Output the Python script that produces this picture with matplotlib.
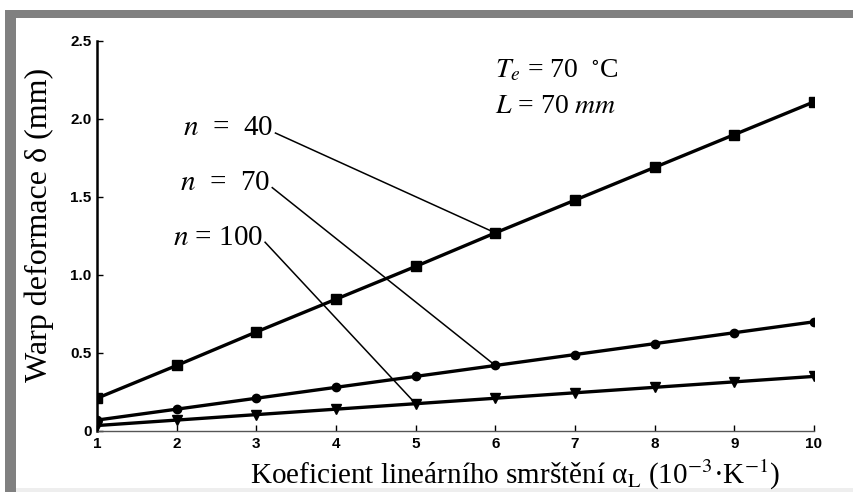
#!/usr/bin/env python3
# Warp deformation vs. linear shrinkage coefficient for three values of n.

import matplotlib
matplotlib.use("Agg")
from matplotlib import pyplot as plt
from matplotlib.patches import Rectangle

plt.rcParams["mathtext.fontset"] = "stix"
plt.rcParams["font.family"] = ["Liberation Serif", "DejaVu Serif"]

alpha = [1, 2, 3, 4, 5, 6, 7, 8, 9, 10]
warp_n40 = [0.21, 0.42, 0.635, 0.845, 1.055, 1.27, 1.48, 1.69, 1.90, 2.11]
warp_n70 = [0.07, 0.14, 0.21, 0.28, 0.35, 0.42, 0.49, 0.56, 0.63, 0.70]
warp_n100 = [0.035, 0.07, 0.105, 0.14, 0.175, 0.21, 0.245, 0.28, 0.315, 0.35]

y_ticks = [0, 0.5, 1.0, 1.5, 2.0, 2.5]
y_tick_labels = ["0", "0.5", "1.0", "1.5", "2.0", "2.5"]

# (label, label anchor in data coords, index of pointed point, series)
callouts = [
    ("$n$  =  40", (3.24, 1.91), 5, warp_n40),
    ("$n$  =  70", (3.20, 1.56), 5, warp_n70),
    ("$n$ = 100", (3.11, 1.21), 4, warp_n100),
]

fig = plt.figure(figsize=(8.54, 4.92), dpi=100)

# grey frame around the picture
fig.patches.append(Rectangle((5 / 854, 0), 1, 1 - 10 / 492, transform=fig.transFigure,
                             facecolor="#808080", edgecolor="none", zorder=-2))
fig.patches.append(Rectangle((16 / 854, 4 / 492), 1, 1 - 22 / 492,
                             transform=fig.transFigure,
                             facecolor="white", edgecolor="none", zorder=-1))
fig.patches.append(Rectangle((16 / 854, 0), 1, 4 / 492, transform=fig.transFigure,
                             facecolor="#eeeeee", edgecolor="none", zorder=-1))

ax = fig.add_axes([97 / 854, 1 - 431 / 492, 717 / 854, 390 / 492])
ax.set_zorder(2)
ax.patch.set_visible(False)

ax.plot(alpha, warp_n40, color="black", lw=2.4, marker="s", ms=7, zorder=3)
ax.plot(alpha, warp_n70, color="black", lw=2.4, marker="o", ms=6, zorder=3)
ax.plot(alpha, warp_n100, color="black", lw=2.4, marker="v", ms=7, zorder=3)

for text, (tx, ty), idx, series in callouts:
    ax.text(tx - 0.03, ty + 0.03, text, ha="right", va="center", fontsize=21)
    ax.plot([tx, alpha[idx]], [ty, series[idx]], color="black", lw=1.1, zorder=2)

ax.text(6.0, 2.31, "$T_e$ = 70  $^{\\circ}$C", fontsize=20, va="center")
ax.text(6.0, 2.08, "$L$ = 70 $mm$", fontsize=20, va="center")

ax.set_xlim(1, 10)
ax.set_ylim(0, 2.5)
ax.set_xticks(alpha)
ax.set_yticks(y_ticks)
ax.set_yticklabels(y_tick_labels)
for lbl in ax.get_xticklabels() + ax.get_yticklabels():
    lbl.set_family("Liberation Sans")
    lbl.set_fontsize(11)
    lbl.set_fontweight("bold")
ax.tick_params(direction="in", length=4, width=1, pad=4)

ax.spines["top"].set_visible(False)
ax.spines["right"].set_visible(False)
ax.spines["left"].set_linewidth(1.8)
ax.spines["bottom"].set_linewidth(1.0)
ax.spines["bottom"].set_color("#555555")

ax.set_xlabel("Koeficient lineárního smrštění α$_\\mathrm{L}$ "
              "(10$^{\\mathrm{-3}}$·K$^{\\mathrm{-1}}$)", fontsize=21)
ax.xaxis.set_label_coords(0.583, -0.068)
ax.set_ylabel("Warp deformace δ (mm)", fontsize=23)
ax.yaxis.set_label_coords(-0.06, 0.528)

fig.savefig("out.png", dpi=100)
plt.close(fig)
